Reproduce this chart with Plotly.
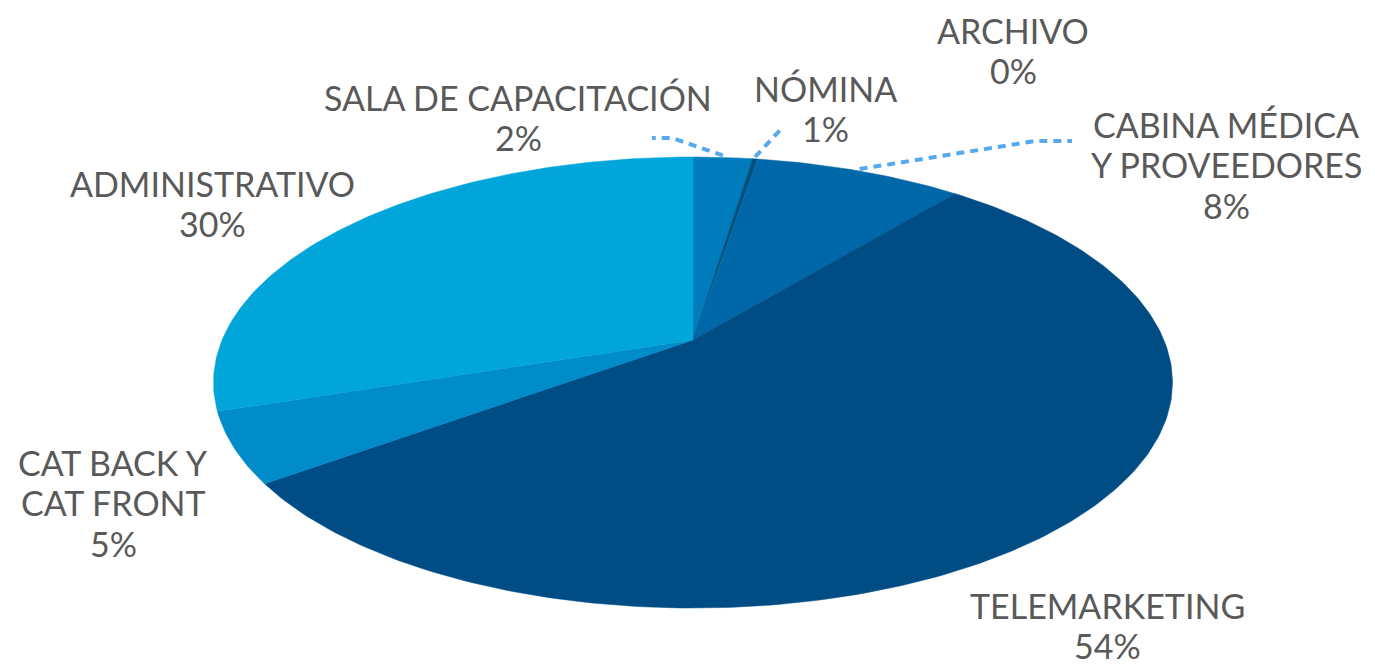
import numpy as np
import plotly.graph_objects as go

# ---- data ----
categories = ["SALA DE CAPACITACIÓN", "NÓMINA", "ARCHIVO",
              "CABINA MÉDICA|Y PROVEEDORES", "TELEMARKETING",
              "CAT BACK Y|CAT FRONT", "ADMINISTRATIVO"]
shares = [2.4, 0.2, 0.0, 8.4, 54.0, 5.0, 30.0]
pct_labels = ["2%", "1%", "0%", "8%", "54%", "5%", "30%"]

# ---- style ----
colors = ["#007CBD", "#00507F", "#005A95", "#0067A8", "#004C85", "#008CC8", "#00A6DA"]
label_pos = [(518, 97), (825, 88), (1013, 30), (1226, 124), (1107, 605), (113, 462), (212, 183)]
PITCH = 40.5
leader_elbows = {0: [(672, 138), (652, 138)], 1: [(782, 128)], 3: [(1035, 141), (1072, 141)]}
FONT = "Lato"
FSIZE = 34
TXT = "#595959"
W, H = 1375, 666
CX, CY = 693.0, 340.0       # projected pie centre
A, B, K = 470.9, 217.5, 0.1885  # perspective projection of the disc


def project(theta):
    u, v = np.sin(theta), np.cos(theta)
    d = 1 + K * v
    return CX + A * u / d, CY - B * v / d


fig = go.Figure()
total = sum(shares)
cum = 0.0
mids = []
for i, s in enumerate(shares):
    t0 = 2 * np.pi * cum / total
    t1 = 2 * np.pi * (cum + s) / total
    mids.append((t0 + t1) / 2)
    cum += s
    if s <= 0:
        continue
    n = max(3, int(400 * s / total) + 3)
    th = np.linspace(t0, t1, n)
    xs, ys = project(th)
    xs = np.concatenate([[CX], xs, [CX]])
    ys = np.concatenate([[CY], ys, [CY]])
    fig.add_trace(go.Scatter(x=xs, y=ys, mode="lines", fill="toself",
                             fillcolor=colors[i], line=dict(color=colors[i], width=0.5),
                             hoverinfo="skip", showlegend=False))

# leader lines
for i, pts in leader_elbows.items():
    rx, ry = project(np.array([mids[i]]))
    xs = [float(rx[0])] + [p[0] for p in pts]
    ys = [float(ry[0]) - 2] + [p[1] for p in pts]
    fig.add_trace(go.Scatter(x=xs, y=ys, mode="lines",
                             line=dict(color="#55A9EC", width=4, dash="8px,6px"),
                             hoverinfo="skip", showlegend=False))

for i, (cat, p) in enumerate(zip(categories, pct_labels)):
    x, y0 = label_pos[i]
    lines = cat.split("|") + [p]
    for k, ln in enumerate(lines):
        fig.add_annotation(x=x, y=y0 + k * PITCH, text=ln, showarrow=False,
                           xanchor="center", yanchor="middle", align="center",
                           font=dict(family=FONT, size=FSIZE, color=TXT))

fig.update_layout(
    width=W, height=H, margin=dict(l=0, r=0, t=0, b=0),
    paper_bgcolor="white", plot_bgcolor="white",
    xaxis=dict(range=[0, W], visible=False, fixedrange=True),
    yaxis=dict(range=[H, 0], visible=False, fixedrange=True),
)
fig.write_html("out.html", config={"displayModeBar": False},
               post_script="document.body.style.margin='0';document.body.style.overflow='hidden';")
